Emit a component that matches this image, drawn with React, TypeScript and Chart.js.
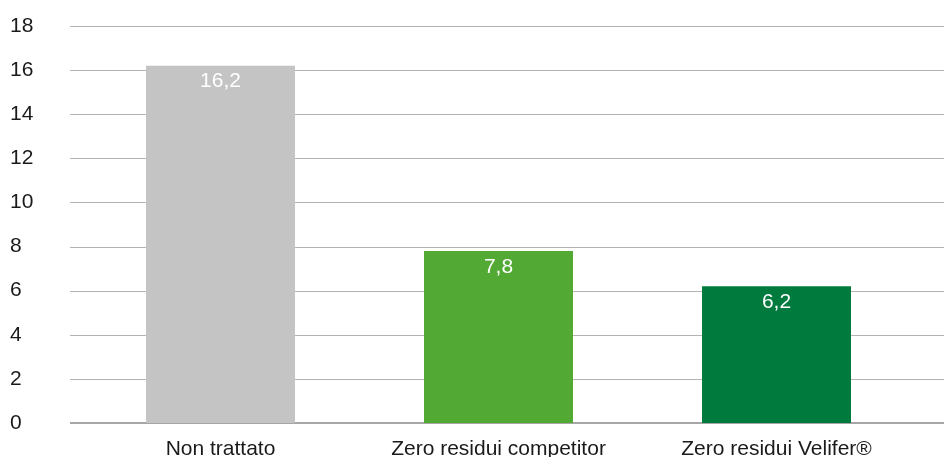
import React, { useEffect, useRef } from "react";
import { Chart, registerables } from "chart.js";

Chart.register(...registerables);

const categories = ["Non trattato", "Zero residui competitor", "Zero residui Velifer®"];
const values = [16.2, 7.8, 6.2];
const barColors = ["#c4c4c4", "#52a933", "#007a3d"];
const yTicks = [0, 2, 4, 6, 8, 10, 12, 14, 16, 18];

const FONT = "'Liberation Sans', Arial, Helvetica, sans-serif";

const gridPlugin = {
  id: "customGrid",
  beforeDatasetsDraw(chart: any) {
    const { ctx } = chart;
    const y = chart.scales.y;
    ctx.save();
    yTicks.forEach((t) => {
      const py = Math.round(y.getPixelForValue(t));
      ctx.beginPath();
      if (t === 0) {
        ctx.strokeStyle = "#a6a6a6";
        ctx.lineWidth = 2;
        ctx.moveTo(70, py);
        ctx.lineTo(chart.width, py);
      } else {
        ctx.strokeStyle = "#b3b3b3";
        ctx.lineWidth = 1;
        ctx.moveTo(70, py + 0.5);
        ctx.lineTo(chart.width, py + 0.5);
      }
      ctx.stroke();
    });
    ctx.restore();
  },
  afterDatasetsDraw(chart: any) {
    const { ctx } = chart;
    const meta = chart.getDatasetMeta(0);
    ctx.save();
    ctx.fillStyle = "#ffffff";
    ctx.font = `21px ${FONT}`;
    ctx.textAlign = "center";
    ctx.textBaseline = "middle";
    meta.data.forEach((bar: any, i: number) => {
      ctx.fillText(values[i].toFixed(1).replace(".", ","), bar.x, bar.y + 16);
    });
    ctx.restore();
  },
};

export default function App() {
  const ref = useRef<HTMLCanvasElement>(null);
  useEffect(() => {
    document.body.style.margin = "0";
    const chart = new Chart(ref.current!, {
      type: "bar",
      data: {
        labels: categories,
        datasets: [
          {
            data: values,
            backgroundColor: barColors,
            borderWidth: 0,
            barPercentage: 0.536,
            categoryPercentage: 1,
          },
        ],
      },
      options: {
        animation: false,
        responsive: false,
        maintainAspectRatio: false,
        layout: { padding: { left: 10, right: 28.5, top: 26, bottom: 0 } },
        plugins: { legend: { display: false }, tooltip: { enabled: false } },
        scales: {
          x: {
            grid: { display: false },
            border: { display: false },
            afterFit: (scale: any) => {
              scale.height = 34;
            },
            ticks: {
              color: "#1a1a1a",
              font: { family: FONT, size: 21 },
              padding: 6,
              maxRotation: 0,
              autoSkip: false,
            },
          },
          y: {
            min: 0,
            max: 18,
            grid: { display: false },
            border: { display: false },
            afterFit: (scale: any) => {
              scale.width = 71.5;
            },
            ticks: {
              stepSize: 2,
              crossAlign: "far",
              color: "#1a1a1a",
              font: { family: FONT, size: 21 },
              padding: 0,
            },
          },
        },
      },
      plugins: [gridPlugin],
    });
    return () => chart.destroy();
  }, []);
  return (
    <div style={{ width: 944, height: 457 }}>
      <canvas ref={ref} width={944} height={457} style={{ display: "block" }} />
    </div>
  );
}
